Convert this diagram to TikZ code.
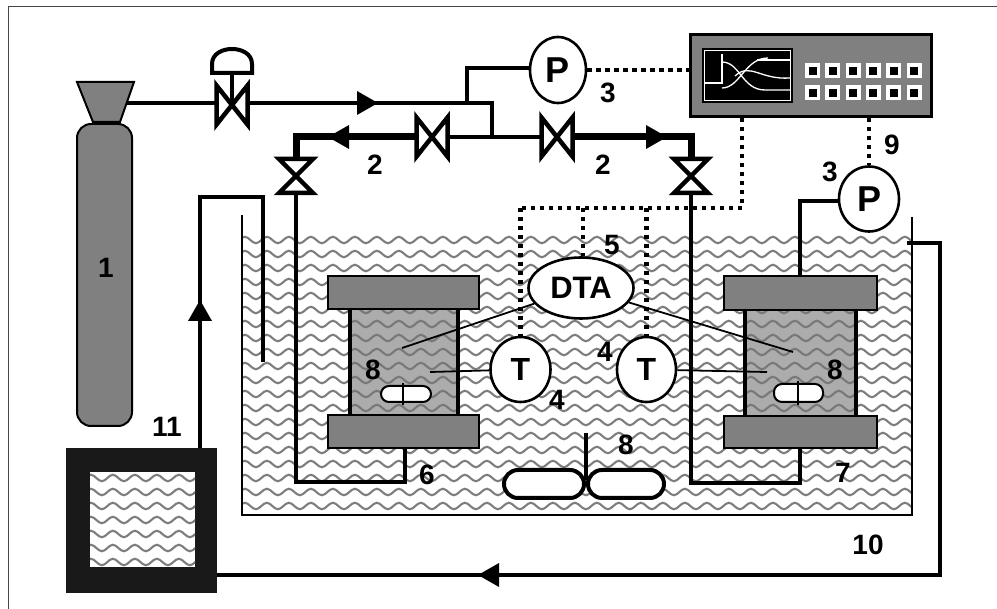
\documentclass[tikz,border=0pt]{standalone}
\usepackage{fontspec}
\setmainfont{Liberation Sans}
\usetikzlibrary{shapes.geometric,decorations.pathmorphing}

\definecolor{metalgray}{RGB}{128,128,128}
\definecolor{cellgray}{RGB}{172,172,172}
\definecolor{wavegray}{RGB}{125,125,125}
\definecolor{cellwave}{RGB}{120,120,120}
\definecolor{framegray}{RGB}{70,70,70}
\definecolor{nearblack}{RGB}{25,25,25}

\tikzset{
  pipe/.style={line width=4pt, line join=miter},
  mainpipe/.style={line width=7pt, line join=miter},
  thinwire/.style={line width=1.8pt},
  signal/.style={line width=4.5pt, dash pattern=on 4.5pt off 4.5pt},
  wall/.style={line width=2.5pt},
  wave/.style={line width=2.1pt, decorate,
     decoration={snake, segment length=22pt, amplitude=3.2pt}},
  gauge/.style={ellipse, draw, fill=white, line width=2.6pt, inner sep=0pt,
     font=\fontsize{36}{36}\selectfont\bfseries},
  num/.style={font=\fontsize{28}{28}\selectfont\bfseries, inner sep=0pt},
  plate/.style={fill=metalgray, draw, line width=2.5pt},
  capsule/.style={draw, fill=white, line width=2pt, rounded corners=8pt},
  arrowhd/.pic={\fill (0,0) -- (-21,-12) -- (-21,12) -- cycle;},
  valveh/.pic={\filldraw[fill=white, line width=4.5pt, line join=miter]
     (-15.5,-19.5) -- (-15.5,19.5) -- (15.5,-19.5) -- (15.5,19.5) -- cycle;},
  valvev/.pic={\filldraw[fill=white, line width=4.5pt, line join=miter]
     (-17,-17) -- (17,-17) -- (-17,17) -- (17,17) -- cycle;},
}

% wavy liquid hatching inside a rectangle: x1 y1 x2 y2 colour
\newcommand\wavearea[5]{%
  \begin{scope}
    \clip (#1,#2) rectangle (#3,#4);
    \foreach \yy in {240,254,...,590} \draw[wave, draw=#5] (40,\yy) -- (960,\yy);
  \end{scope}}

\begin{document}
\begin{tikzpicture}[x=1pt,y=-1pt]
\useasboundingbox (0,0) rectangle (997,609);

% outer frame
\draw[framegray, line width=1.5pt] (8.5,609) -- (8.5,6.5) -- (997,6.5);

% ---- thermostat bath (10) ----
\wavearea{242}{232}{912}{515}{wavegray}
\draw[wall] (242,215) -- (242,515) -- (912,515) -- (912,217);

% ---- gas cylinder (1) ----
\filldraw[fill=metalgray, line width=2pt, rounded corners=14pt] (77,124) rectangle (132,426);
\filldraw[fill=metalgray, line width=2pt] (77,82) -- (134,82) -- (120,122) -- (93,122) -- cycle;
\node[num] (n1) at (106,268) {1};

% ---- pressure gauges ----
\node[gauge, minimum width=56pt, minimum height=66pt] (P1) at (558,70) {P};
\node[gauge, minimum width=60pt, minimum height=65pt] (P2) at (869,199) {P};

% ---- gas supply line ----
\draw[pipe] (126,103) -- (492,103) -- (492,137);
\draw[pipe] (467,103) -- (467,68) -- (P1.west |- 0,68);
\pic at (378,103) {arrowhd};
% pressure regulator
\draw[pipe] (232,105) -- (232,72);
\filldraw[fill=white, line width=4pt] (212,73) -- (212,64) .. controls (212,44) and (252,44) .. (252,64) -- (252,73) -- cycle;
\pic at (232,105) {valveh};

% ---- distribution lines (2) ----
\draw[pipe] (296,176) -- (296,482) -- (405,482) -- (405,449);
\draw[pipe] (691,176) -- (691,483) -- (800,483) -- (800,449);
\draw[pipe] (450,137) -- (540,137);
\draw[mainpipe] (415,137) -- (296,137) -- (296,158);
\draw[mainpipe] (575,137) -- (691,137) -- (691,158);
\pic[rotate=180] at (328,137) {arrowhd};
\pic at (667,137) {arrowhd};
\pic at (432,137) {valveh};
\pic at (557,137) {valveh};
\pic at (296,176) {valvev};
\pic at (691,176) {valvev};

% line from right cell to its gauge
\draw[pipe] (800,276) -- (800,201) -- (P2.west |- 0,201);

% ---- circulation loop ----
\draw[pipe] (200,448) -- (200,197) -- (263,197) -- (263,362);
\pic[rotate=90] at (200,300) {arrowhd};
\draw[pipe] (907,243) -- (940,243) -- (940,575) -- (217,575);
\pic[rotate=180] at (478,575) {arrowhd};

% ---- thermostat (11) ----
\fill[nearblack] (66,448) rectangle (217,593);
\fill[white] (90,472) rectangle (195,567);
\wavearea{90}{472}{195}{567}{wavegray}

% ---- high-pressure cells (6, 7) ----
\fill[cellgray] (350,309) rectangle (458,415);
\wavearea{350}{309}{458}{415}{cellwave}
\draw[line width=4.5pt] (350,309) -- (350,415) (458,309) -- (458,415);
\filldraw[plate] (328,276) rectangle (479,309);
\filldraw[plate] (328,415) rectangle (479,448);

\fill[cellgray] (745,310) rectangle (856,416);
\wavearea{745}{310}{856}{416}{cellwave}
\draw[line width=4.5pt] (745,310) -- (745,416) (856,310) -- (856,416);
\filldraw[plate] (724,276) rectangle (877,310);
\filldraw[plate] (724,416) rectangle (877,448);

% sample capsules (8)
\draw[capsule] (381,386) rectangle (431,402);
\draw[line width=2pt] (403,383) -- (403,405);
\draw[capsule] (774,384) rectangle (823,402);
\draw[line width=2pt] (798,381) -- (798,405);
\draw[line width=4pt] (586,433) -- (586,480);
\draw[capsule, line width=4pt, rounded corners=14pt] (504,470) rectangle (584,498);
\draw[capsule, line width=4pt, rounded corners=14pt] (588,470) rectangle (664,498);

% ---- recorder (9) ----
\node[draw, fill=metalgray, line width=3pt, minimum width=241pt, minimum height=82pt, inner sep=0pt] (rec) at (811,75.5) {};
\fill[black] (702,48) rectangle (793,103);
\draw[white, line width=1.5pt] (704.5,50.5) rectangle (790.5,100.5);
\draw[white, line width=1.3pt] (704,83) -- (722,83) -- (722,54);
\draw[white, line width=1.3pt] (757,60) -- (790,60);
\draw[white, line width=1.3pt] (722,62) .. controls (740,62) and (742,90) .. (765,90) -- (790,90);
\draw[white, line width=1.3pt] (722,88) .. controls (740,88) and (745,58) .. (768,58);
\draw[white, line width=1.3pt] (735,76) .. controls (750,62) and (760,80) .. (790,78);
\foreach \i in {0,...,5} {
  \pgfmathsetmacro\bx{812.5+20.3*\i}
  \foreach \j in {71,93} {
    \fill[white] (\bx-7.5,\j-7.5) rectangle (\bx+7.5,\j+7.5);
    \fill[black] (\bx-4,\j-4) rectangle (\bx+4,\j+4);
  }
}

% ---- thermocouples (4) and DTA unit (5) ----
\node[gauge, font=\fontsize{32}{32}\selectfont\bfseries, minimum width=60pt, minimum height=65pt] (T1) at (520.5,369.5) {T};
\node[gauge, font=\fontsize{32}{32}\selectfont\bfseries, minimum width=59pt, minimum height=65pt] (T2) at (646.5,369.5) {T};
\node[gauge, font=\fontsize{31}{31}\selectfont\bfseries, minimum width=105pt, minimum height=61pt] (DTA) at (581,288) {DTA};

\draw[thinwire] (T1) -- (430,372);
\draw[thinwire] (T2) -- (767,372);
\draw[thinwire] (DTA) -- (402,348);
\draw[thinwire] (DTA) -- (793,352);

% ---- signal lines ----
\coordinate (sg) at (742,208);
\draw[signal] (P1.east) -- (rec.west |- P1.east);
\draw[signal] (sg |- rec.south) -- (sg) -- (520,208);
\draw[signal] (520.5,208) -- (T1.north);
\draw[signal] (583,208) -- (DTA.north -| 583,0);
\draw[signal] (646.5,208) -- (T2.north);
\draw[signal] (P2.north |- rec.south) -- (P2.north);

% ---- labels ----
\node[num] at (375,165) {2};
\node[num] at (603,165) {2};
\node[num] at (608,93) {3};
\node[num] at (830,172) {3};
\node[num] at (892,145) {9};
\node[num] at (612,245) {5};
\node[num] at (557,400) {4};
\node[num] at (605,352) {4};
\node[num] at (373,370) {8};
\node[num] at (835,370) {8};
\node[num] at (626,445) {8};
\node[num] at (427,475) {6};
\node[num] at (843,473) {7};
\node[num] at (868,545) {10};
\node[num] at (167,427) {11};
\end{tikzpicture}
\end{document}
